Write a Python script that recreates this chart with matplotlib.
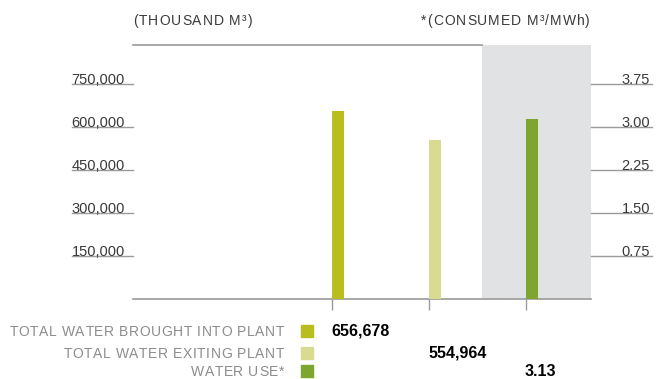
import matplotlib
matplotlib.use('Agg')
import matplotlib.pyplot as plt
import matplotlib.transforms as mtransforms
from matplotlib.patches import Rectangle
from matplotlib.font_manager import FontProperties, findfont, get_font

# data
labels = ['TOTAL WATER BROUGHT INTO PLANT', 'TOTAL WATER EXITING PLANT', 'WATER USE*']
values = [656678, 554964, 3.13]
value_text = ['656,678', '554,964', '3.13']
colors = ['#b7be1d', '#d9dc90', '#7ea52f']
left_ticks = [150000, 300000, 450000, 600000, 750000]
right_ticks = [0.75, 1.50, 2.25, 3.00, 3.75]
ymax = 885000
ratio = 200000  # left units per right unit

W, H = 657, 379
fig = plt.figure(figsize=(W / 100, H / 100), dpi=100)
ax = fig.add_axes([133 / W, (H - 299) / H, 458 / W, 254 / H])
ax2 = ax.twinx()

line_col = '#9a9a9a'
text_col = '#3a3a3a'
plt.rcParams['font.family'] = ['Liberation Sans', 'DejaVu Sans']

x = list(range(len(values)))
bar_w = 0.124
xlim = (-2.052, 2.670)
gray_start = 1.546

ax.set_xlim(*xlim)
ax.set_ylim(0, ymax)
ax2.set_ylim(0, ymax / ratio)

# gray panel for the right-axis series
ax.axvspan(gray_start, xlim[1], color='#e1e2e4', lw=0, zorder=0)

ax.bar(x[:2], values[:2], width=bar_w, align='edge', color=colors[:2], zorder=3)
ax2.bar(x[2:], values[2:], width=bar_w, align='edge', color=colors[2:], zorder=3)

for a in (ax, ax2):
    for s in a.spines.values():
        s.set_visible(False)
    a.set_yticks([])
ax.spines['bottom'].set_visible(True)
ax.spines['bottom'].set_color(line_col)
ax.spines['bottom'].set_linewidth(1.2)
ax.set_xticks(x)
ax.set_xticklabels([])
ax.tick_params(axis='x', length=8, width=1, color=line_col, direction='out')

# top rule up to the gray panel
ax.axhline(ymax, xmin=0, xmax=(gray_start - xlim[0]) / (xlim[1] - xlim[0]),
           color=line_col, lw=1.2, clip_on=False)

# left ticks: underline style
ytr = ax.get_yaxis_transform()
for v in left_ticks:
    ax.plot([-61 / 458, 0], [v, v], transform=ytr, color=line_col, lw=1, clip_on=False)
    ax.text(-8 / 458, v, f'{v:,}', transform=ytr, ha='right', va='baseline',
            fontsize=10.5, color=text_col)
ytr2 = ax2.get_yaxis_transform()
for v in right_ticks:
    ax2.plot([1, 1 + 61 / 458], [v, v], transform=ytr2, color=line_col, lw=1, clip_on=False)
    ax2.text(1 + 59 / 458, v, f'{v:.2f}', transform=ytr2, ha='right', va='baseline',
             fontsize=10.5, color=text_col)


def tracked(xp, yp, s, size, track, ha='left', color=text_col):
    # letter-spaced text, positions in pixels from top-left (baseline)
    prop = FontProperties(family='Liberation Sans', size=size)
    font = get_font(findfont(prop))
    font.set_size(size, fig.dpi)
    adv = [font.load_char(ord(ch)).linearHoriAdvance / 65536 for ch in s]
    total = sum(adv) + track * (len(s) - 1)
    x0 = xp - total if ha == 'right' else xp
    for ch, a in zip(s, adv):
        fig.text(x0 / W, 1 - yp / H, ch, fontproperties=prop, color=color,
                 ha='left', va='baseline')
        x0 += a + track


tracked(133, 25, '(THOUSAND M³)', 10, 1.0)
tracked(590, 25, '*(CONSUMED M³/MWh)', 10, 1.0, ha='right')

# legend rows under the chart
rows_y = [331, 353, 371]
vtr = mtransforms.blended_transform_factory(ax.transData, fig.transFigure)
for lab, vt, c, yp, xi in zip(labels, value_text, colors, rows_y, x):
    tracked(284, yp + 5, lab, 10, 0.58, ha='right', color='#8c8c8c')
    fig.patches.append(Rectangle((301 / W, 1 - (yp + 6) / H), 12 / W, 12 / H,
                                 transform=fig.transFigure, color=c))
    ax.text(xi - 0.01, 1 - (yp + 5) / H, vt, transform=vtr, ha='left', va='baseline',
            fontsize=11.5, fontweight='bold', color='black', clip_on=False)

fig.savefig('out.png', dpi=100)
